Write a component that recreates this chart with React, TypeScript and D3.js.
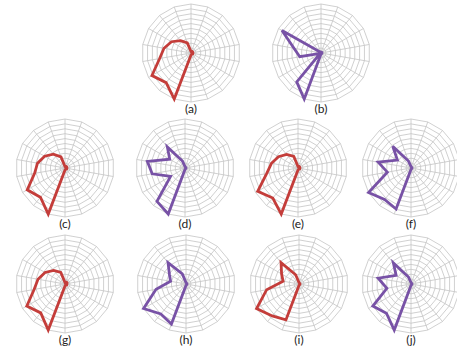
import React, { useRef, useEffect } from 'react';
import * as d3 from 'd3';

// 18 spokes, value 0..1 per spoke, spoke 0 at the top, going clockwise
const axisCount = 18;
const ringCount = 10;

const labels = ['(a)', '(b)', '(c)', '(d)', '(e)', '(f)', '(g)', '(h)', '(i)', '(j)'];
const seriesKind = ['red', 'purple', 'red', 'purple', 'red', 'purple', 'red', 'purple', 'red', 'purple'];

const valuesA = [0.03, 0.03, 0.04, 0.04, 0.04, 0.04, 0.04, 0.03, 0.03, 0.04, 1.0, 0.79, 0.92, 0.65, 0.56, 0.46, 0.33, 0.22];
const valuesB = [0.02, 0.02, 0.02, 0.02, 0.02, 0.02, 0.02, 0.02, 0.02, 0.02, 1.0, 0.77, 0.02, 0.44, 0.56, 0.92, 0.03, 0.02];
const valuesC = [0.03, 0.03, 0.04, 0.04, 0.04, 0.04, 0.04, 0.03, 0.03, 0.04, 1.0, 0.78, 0.89, 0.63, 0.57, 0.48, 0.37, 0.24];
const valuesD = [0.03, 0.02, 0.02, 0.02, 0.02, 0.02, 0.02, 0.02, 0.02, 0.03, 1.0, 0.89, 0.34, 0.68, 0.78, 0.36, 0.56, 0.15];
const valuesE = [0.03, 0.03, 0.04, 0.04, 0.04, 0.04, 0.04, 0.03, 0.03, 0.04, 1.0, 0.8, 0.95, 0.65, 0.55, 0.46, 0.36, 0.25];
const valuesF = [0.03, 0.02, 0.02, 0.02, 0.02, 0.02, 0.02, 0.02, 0.02, 0.03, 0.89, 0.84, 1.0, 0.49, 0.68, 0.32, 0.58, 0.15];
const valuesG = [0.03, 0.04, 0.05, 0.05, 0.04, 0.04, 0.04, 0.03, 0.03, 0.04, 1.0, 0.77, 0.9, 0.64, 0.56, 0.47, 0.36, 0.25];
const valuesH = [0.03, 0.02, 0.02, 0.02, 0.02, 0.02, 0.02, 0.02, 0.02, 0.03, 0.87, 0.8, 1.0, 0.62, 0.32, 0.39, 0.57, 0.22];
const valuesI = [0.03, 0.02, 0.02, 0.02, 0.02, 0.02, 0.02, 0.02, 0.02, 0.03, 0.78, 0.85, 1.0, 0.67, 0.33, 0.41, 0.57, 0.2];
const valuesJ = [0.03, 0.02, 0.02, 0.02, 0.02, 0.02, 0.02, 0.02, 0.02, 0.03, 1.0, 0.78, 0.9, 0.5, 0.68, 0.35, 0.56, 0.15];

const allValues = [valuesA, valuesB, valuesC, valuesD, valuesE, valuesF, valuesG, valuesH, valuesI, valuesJ];

const colors: Record<string, string> = { red: '#c43d3a', purple: '#7852a6' };

const width = 457;
const height = 347;
const radius = 49;

// chart centres, row by row
const centers = [
  [191, 53], [321, 53],
  [65, 168], [185, 168], [298, 168], [411, 168],
  [65, 284], [186, 284], [299, 284], [411, 284],
];

export default function App() {
  const ref = useRef<SVGSVGElement>(null);

  useEffect(() => {
    if (!ref.current) return;
    const svg = d3.select(ref.current);
    svg.selectAll('*').remove();

    const angle = d3.scaleLinear().domain([0, axisCount]).range([0, 2 * Math.PI]);
    const r = d3.scaleLinear().domain([0, 1]).range([0, radius]);
    const ringLevels = d3.range(1, ringCount + 1).map(i => i / ringCount);
    const spokes = d3.range(axisCount);

    const radial = d3.lineRadial<number>()
      .angle((_, i) => angle(i))
      .radius(d => r(d))
      .curve(d3.curveLinearClosed);

    allValues.forEach((vals, k) => {
      const [cx, cy] = centers[k];
      const g = svg.append('g').attr('transform', `translate(${cx},${cy})`);

      // rings
      g.selectAll('.ring')
        .data(ringLevels)
        .enter()
        .append('path')
        .attr('d', lvl => radial(spokes.map(() => lvl)))
        .attr('fill', 'none')
        .attr('stroke', '#c4c4c4')
        .attr('stroke-width', 0.8);

      // spokes
      g.selectAll('.spoke')
        .data(spokes)
        .enter()
        .append('line')
        .attr('x1', 0)
        .attr('y1', 0)
        .attr('x2', i => r(1) * Math.sin(angle(i)))
        .attr('y2', i => -r(1) * Math.cos(angle(i)))
        .attr('stroke', '#c4c4c4')
        .attr('stroke-width', 0.8);

      // data polygon
      g.append('path')
        .attr('d', radial(vals))
        .attr('fill', 'none')
        .attr('stroke', colors[seriesKind[k]])
        .attr('stroke-width', 2.8)
        .attr('stroke-linejoin', 'miter');

      g.append('text')
        .attr('x', 0)
        .attr('y', radius + 11)
        .attr('text-anchor', 'middle')
        .attr('font-family', 'Lato, "Open Sans", sans-serif')
        .attr('font-size', 12)
        .attr('fill', '#222')
        .text(labels[k]);
    });
  }, []);

  return (
    <svg
      ref={ref}
      width={width}
      height={height}
      style={{ position: 'absolute', left: 0, top: 0, background: '#fff' }}
    />
  );
}
